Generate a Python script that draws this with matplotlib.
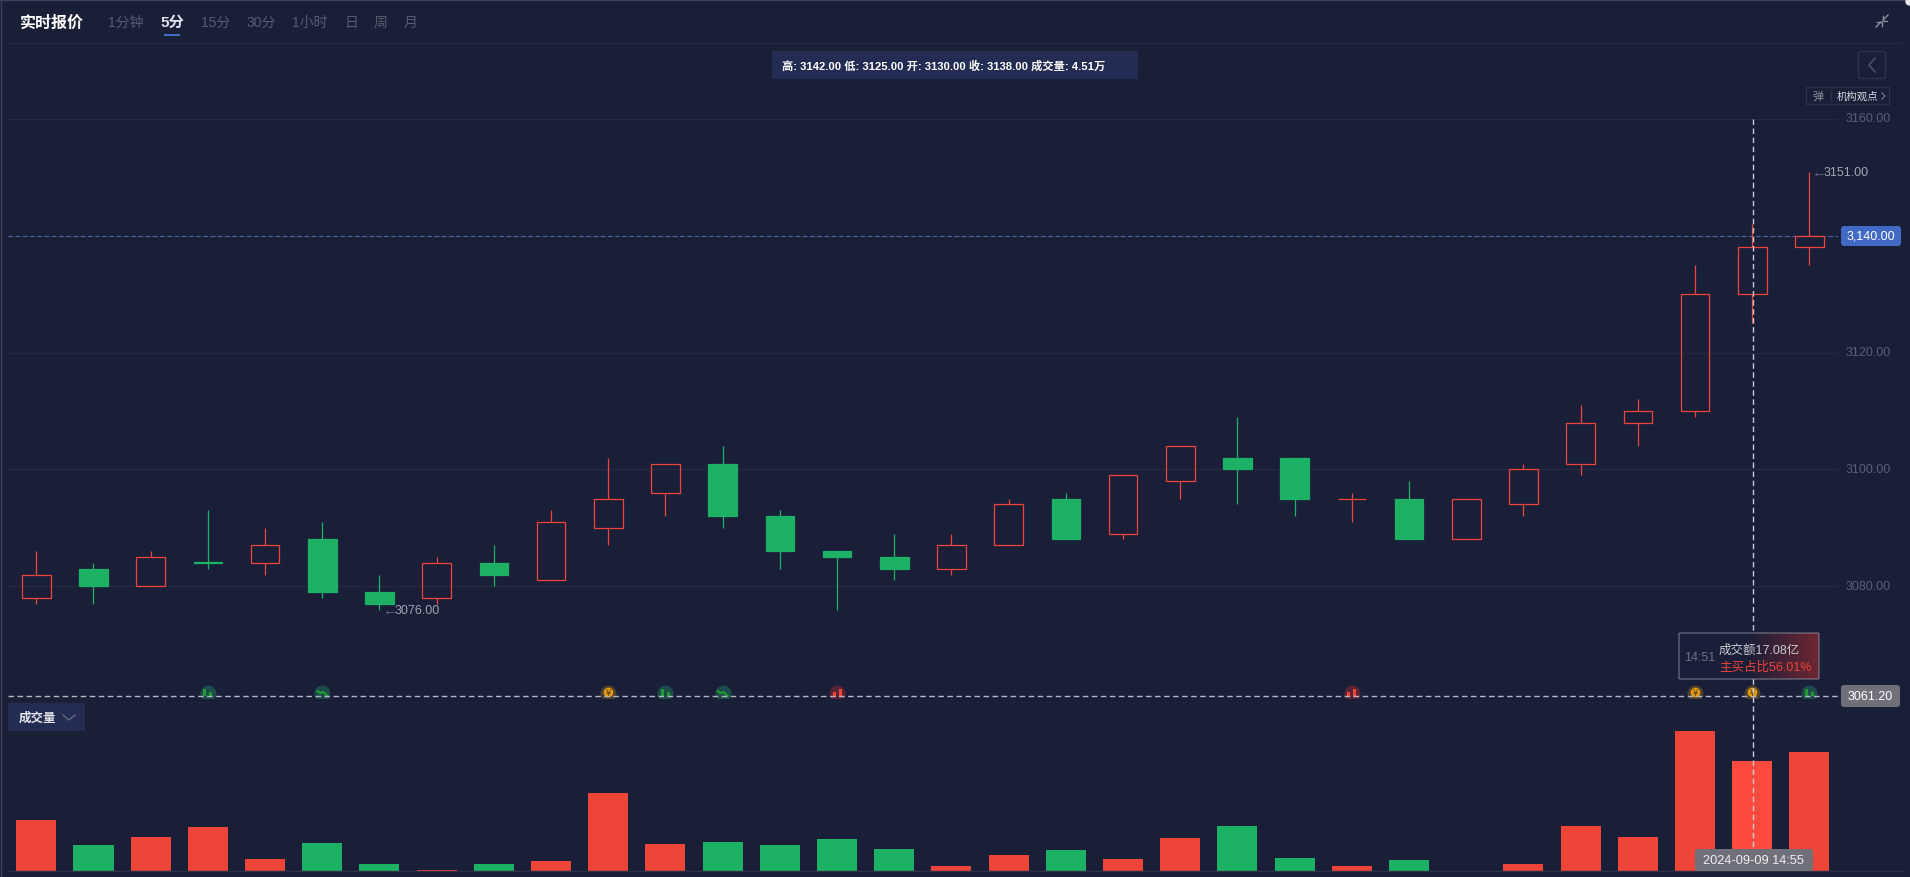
import matplotlib
matplotlib.use("Agg")
import matplotlib.pyplot as plt
import numpy as np
from matplotlib.colors import LinearSegmentedColormap
from matplotlib.patches import FancyBboxPatch, Rectangle

W, H = 1910, 878

# candles, oldest first
opens = [3078, 3083, 3080, 3084.2, 3084, 3088, 3079, 3078, 3084, 3081, 3090, 3096, 3101, 3092, 3086, 3085,
         3083, 3087, 3095, 3089, 3098, 3102, 3102, 3095, 3095, 3088, 3094, 3101, 3108, 3110, 3130, 3138]
closes = [3082, 3080, 3085, 3084.0, 3087, 3079, 3077, 3084, 3082, 3091, 3095, 3101, 3092, 3086, 3085, 3083,
          3087, 3094, 3088, 3099, 3104, 3100, 3095, 3095, 3088, 3095, 3100, 3108, 3110, 3130, 3138, 3140]
highs = [3086, 3084, 3086, 3093, 3090, 3091, 3082, 3085, 3087, 3093, 3102, 3101, 3104, 3093, 3086, 3089,
         3089, 3095, 3096, 3099, 3104, 3109, 3102, 3096, 3098, 3095, 3101, 3111, 3112, 3135, 3142, 3151]
lows = [3077, 3077, 3080, 3083, 3082, 3078, 3076, 3077, 3080, 3081, 3087, 3092, 3090, 3083, 3076, 3081,
        3082, 3087, 3088, 3088, 3095, 3094, 3092, 3091, 3088, 3088, 3092, 3099, 3104, 3109, 3125, 3135]
# volume, in 万
volumes = [2.10, 1.05, 1.40, 1.80, 0.50, 1.15, 0.30, 0.05, 0.30, 0.40, 3.21, 1.10, 1.20, 1.05, 1.30, 0.90,
           0.20, 0.65, 0.85, 0.50, 1.35, 1.85, 0.55, 0.20, 0.45, 0.00, 0.30, 1.85, 1.40, 5.76, 4.51, 4.91]
volume_red = [1, 0, 1, 1, 1, 0, 0, 1, 0, 1, 1, 1, 0, 0, 0, 0,
              1, 1, 0, 1, 1, 0, 0, 1, 0, 1, 1, 1, 1, 1, 1, 1]

price_ticks = [3060, 3080, 3100, 3120, 3140, 3160]
tick_labels = ["", "3080.00", "3100.00", "3120.00", "", "3160.00"]
last_price = 3140
cross_price = 3061.2
cross_index = 30
high_index, high_price = 31, 3151
low_index, low_price = 6, 3076

icon_index = [3, 5, 10, 11, 12, 14, 23, 29, 30, 31]
icon_kind = ["g", "d", "o", "g", "d", "r", "r", "o", "o", "g"]

periods = ["1分钟", "5分", "15分", "30分", "1小时", "日", "周", "月"]
period_x = [126, 172.5, 216, 261, 310, 351, 380.5, 410.5]

BG = "#1a1f38"
GRID = "#252a40"
LINE = "#2e3249"
RED = "#ef4438"
GREEN = "#1cb164"
BOX = "#232c52"
BLUE = "#4269c5"
GRAY_BOX = "#6f7079"
FONT = ["Liberation Sans", "Noto Sans CJK SC", "DejaVu Sans"]


def px_axes(fig, left, top, right, bottom, **kw):
    return fig.add_axes([left / W, 1 - bottom / H, (right - left) / W, (bottom - top) / H], **kw)


def clean(ax):
    ax.set_facecolor("none")
    for s in ax.spines.values():
        s.set_visible(False)
    ax.set_xticks([])
    ax.set_yticks([])


def draw_candles(ax):
    for i in range(len(opens)):
        up = closes[i] >= opens[i]
        c = RED if up else GREEN
        top, bottom = max(opens[i], closes[i]), min(opens[i], closes[i])
        ax.vlines(i, top, highs[i], color=c, lw=0.9, zorder=3)
        ax.vlines(i, lows[i], bottom, color=c, lw=0.9, zorder=3)
        ax.bar(i, top - bottom, 0.5, bottom=bottom, facecolor="none" if up else c, edgecolor=c, lw=0.9, zorder=3)


def draw_icons(ax):
    # small round event badges sitting on the crosshair line
    dx, dy = 1 / 57.18, 1 / 5.84
    y0 = cross_price
    colors = {"g": "#1d4a4a", "d": "#1d4a4a", "o": "#4c412f", "r": "#5a2333"}
    for i, k in zip(icon_index, icon_kind):
        badge, = ax.plot(i, y0 + 3 * dy, "o", ms=11.5, mfc=colors[k], mec="none", zorder=4)
        badge.set_clip_path(Rectangle((i - 1, y0 - 2 * dy), 2, 20 * dy, transform=ax.transData))
        if k == "g":
            ax.bar([i - 3 * dx, i + 3 * dx], [7 * dy, 4 * dy], 3 * dx, bottom=y0, color="#1f9a2e", zorder=5)
        elif k == "r":
            ax.bar([i - 3 * dx, i + 3 * dx], [5 * dy, 8 * dy], 3 * dx, bottom=y0 - dy, color=RED, zorder=5)
        elif k == "d":
            ax.plot([i - 5 * dx, i - 2 * dx, i + 1 * dx, i + 5 * dx], [y0 + 5 * dy, y0 + 3 * dy, y0 + 4 * dy, y0],
                    color="#1f9a2e", lw=1.6, zorder=5)
        else:
            ax.plot(i, y0 + 3.5 * dy, "o", ms=7, mfc="#e69a0c", mec="none", zorder=5)
            ax.text(i, y0 + 3.5 * dy, "¥", color="#4c412f", fontsize=6, ha="center", va="center", zorder=6)


def draw_price(ax):
    ax.set_xlim(-0.5, 31.5)
    ax.set_ylim(3060, 3160)
    clean(ax)
    for p in price_ticks:
        ax.axhline(p, color=LINE if p == 3060 else GRID, lw=1, zorder=1)
    ax.axhline(last_price, color="#4566b5", lw=0.8, ls=(0, (4, 2.5)), zorder=2)
    ax.axhline(cross_price, color="#b5b6bf", lw=1, ls=(0, (4, 2.5)), zorder=6)
    draw_candles(ax)
    draw_icons(ax)
    for i, p in ((high_index, high_price), (low_index, low_price)):
        ax.annotate("←", (i, p), xytext=(1.5, 0), textcoords="offset points", color="#6a6d80", fontsize=10.5,
                    va="center", family=FONT, zorder=7)
        ax.annotate("%.2f" % p, (i, p), xytext=(10.5, 0), textcoords="offset points", color="#a2a4b0", fontsize=9,
                    va="center", family=FONT, zorder=7)


def draw_volume(ax):
    ax.set_xlim(-0.5, 31.5)
    ax.set_ylim(0, 6.79)
    clean(ax)
    colors = [RED if r else GREEN for r in volume_red]
    colors[cross_index] = "#ff4a3e"
    ax.bar(range(len(volumes)), volumes, 0.7, color=colors, zorder=2)


def box(ax, x0, y0, x1, y1, fc="none", ec="none", lw=1, r=0, zorder=5):
    if r:
        p = FancyBboxPatch((x0 + r, y0 + r), x1 - x0 - 2 * r, y1 - y0 - 2 * r, boxstyle="round,pad=%s,rounding_size=%s" % (r, r),
                           fc=fc, ec=ec, lw=lw, zorder=zorder)
    else:
        p = Rectangle((x0, y0), x1 - x0, y1 - y0, fc=fc, ec=ec, lw=lw, zorder=zorder)
    ax.add_patch(p)


def label(ax, x, y, s, color="white", size=9, ha="center", weight="normal", zorder=8):
    ax.text(x, y, s, color=color, fontsize=size, ha=ha, va="center", fontweight=weight, family=FONT, zorder=zorder)


def draw_chrome(ax):
    ax.set_xlim(0, W)
    ax.set_ylim(H, 0)
    clean(ax)
    # frame
    ax.plot([0, W], [0.5, 0.5], color="#3c4052", lw=1)
    ax.plot([0.5, 0.5], [0, H], color="#3c4052", lw=1)
    ax.plot([8, 1902], [43.5, 43.5], color=GRID, lw=1)
    ax.plot([8, 1902], [872.5, 872.5], color=LINE, lw=1)
    ax.plot(W - 1.5, 1.5, "o", ms=6, mfc="#e8e8ec", mec="none", zorder=2)

    # top bar
    label(ax, 52, 23, "实时报价", size=11.5, weight="bold")
    for name, x in zip(periods, period_x):
        on = name == "5分"
        label(ax, x, 23, name, color="#dfe2ee" if on else "#585c6e", size=11 if on else 10, weight="bold" if on else "normal")
    box(ax, 164, 35, 180, 37, fc=BLUE)
    # collapse arrows
    ax.plot([1876, 1881], [28, 23], color="#8a8c98", lw=1)
    ax.plot([1877, 1881.5, 1881.5], [22.5, 22.5, 27], color="#8a8c98", lw=1)
    ax.plot([1883, 1888], [21, 16], color="#8a8c98", lw=1)
    ax.plot([1882.5, 1882.5, 1887], [17, 21.5, 21.5], color="#8a8c98", lw=1)

    # ohlc strip
    box(ax, 772, 52, 1138, 80, fc=BOX)
    label(ax, 782, 66.5, "高: 3142.00 低: 3125.00 开: 3130.00 收: 3138.00 成交量: 4.51万", ha="left", size=8.1, weight="bold")

    # right side buttons
    box(ax, 1858.5, 52.5, 1885.5, 79.5, ec=LINE, r=2)
    ax.plot([1875, 1869, 1875], [59, 66, 73], color="#4c4f60", lw=1.2)
    box(ax, 1806.5, 88.5, 1889.5, 105.5, ec=LINE, r=1)
    label(ax, 1818, 97, "弹", color="#8a8c98", size=8)
    ax.plot([1831, 1831], [92, 102], color=LINE, lw=1)
    label(ax, 1857, 97, "机构观点", color="#d8d9e0", size=7.5)
    ax.plot([1882, 1885, 1882], [94, 97, 100], color="#7a7c88", lw=0.8)

    # axis labels
    for p, s in zip(price_ticks, tick_labels):
        if s:
            label(ax, 1868, 119.5 + (3160 - p) * 5.84, s, color="#5c5f70", size=9)
    box(ax, 1841, 227, 1901, 247, fc=BLUE, r=3)
    label(ax, 1871, 237, "3,140.00", size=9)
    box(ax, 1841, 686, 1900, 708, fc=GRAY_BOX, r=3)
    label(ax, 1870.5, 697, "%.2f" % cross_price, size=9)

    # crosshair stem goes down over the volume pane
    ax.plot([1752.5, 1752.5], [120, 850], color="#c9cad2", lw=1, ls=(0, (4, 2.5)), zorder=6)

    # tooltip
    cmap = LinearSegmentedColormap.from_list("tip", [BG, BG, "#6e2632"])
    ax.imshow(np.linspace(0, 1, 128).reshape(1, -1), extent=(1679, 1819, 680, 634), cmap=cmap, aspect="auto", zorder=7)
    ax.set_xlim(0, W)
    ax.set_ylim(H, 0)
    box(ax, 1679, 634, 1819, 680, ec="#85868f", lw=0.7, r=1, zorder=8)
    label(ax, 1684, 658, "14:51", color="#70727f", size=9, ha="left", zorder=9)
    label(ax, 1719, 650.5, "成交额17.08亿", color="#c8c9d0", size=9, ha="left", zorder=9)
    label(ax, 1719, 668, "主买占比56.01%", color=RED, size=9, ha="left", zorder=9)

    # volume pane selector
    box(ax, 8, 704, 85, 732, fc=BOX)
    label(ax, 37, 719, "成交量", color="#e4e5ea", size=9, weight="bold")
    ax.plot([63, 69, 75], [716, 721, 716], color="#6c7084", lw=0.9, zorder=8)

    # hovered time
    box(ax, 1695, 850, 1813, 872, fc=GRAY_BOX, r=3, zorder=7)
    label(ax, 1753, 861, "2024-09-09 14:55", color="#f0f0f2", size=9.2, zorder=9)


if __name__ == '__main__':
    fig = plt.figure(figsize=(W / 100, H / 100), dpi=100, facecolor=BG)
    ax_price = px_axes(fig, 7.7, 120, 1838, 704)
    ax_volume = px_axes(fig, 7.7, 707, 1838, 872)
    ax_top = px_axes(fig, 0, 0, W, H, zorder=10)
    draw_price(ax_price)
    draw_volume(ax_volume)
    draw_chrome(ax_top)
    fig.savefig("out.png", dpi=100, facecolor=BG)
